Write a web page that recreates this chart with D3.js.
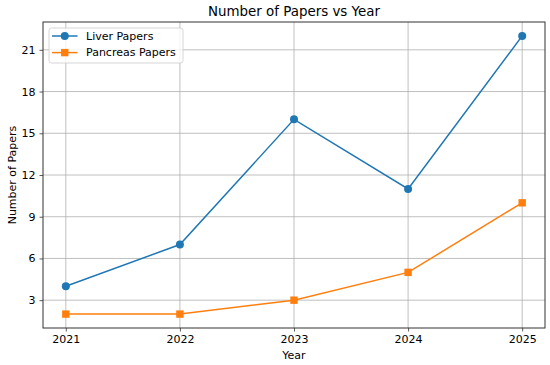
<!DOCTYPE html>
<html>
<head>
<meta charset="utf-8">
<script src="https://cdn.jsdelivr.net/npm/d3@7"></script>
<style>
  body { margin: 0; background: #fff; }
  svg { display: block; font-family: "DejaVu Sans", sans-serif; }
</style>
</head>
<body>
<div class="chart"></div>
<script>
var years = [2021, 2022, 2023, 2024, 2025];
var liverPapers = [4, 7, 16, 11, 22];
var pancreasPapers = [2, 2, 3, 5, 10];
var yTicks = [3, 6, 9, 12, 15, 18, 21];

var margin = {top: 22, right: 5, bottom: 37, left: 43},
    width = 550 - margin.left - margin.right,
    height = 365 - margin.top - margin.bottom;

var svg = d3.select(".chart").append("svg")
    .attr("width", 550)
    .attr("height", 365);

var g = svg.append("g")
    .attr("transform", "translate(" + margin.left + "," + margin.top + ")");

// matplotlib-ish 5% padding
var x = d3.scaleLinear().domain([2020.8, 2025.2]).range([0, width]);
var y = d3.scaleLinear().domain([1, 23]).range([height, 0]);

// grid
g.append("g").selectAll("line").data(years).enter().append("line")
    .attr("x1", function(d) { return x(d); })
    .attr("x2", function(d) { return x(d); })
    .attr("y1", 0).attr("y2", height)
    .attr("stroke", "#b0b0b0").attr("stroke-width", 0.8);
g.append("g").selectAll("line").data(yTicks).enter().append("line")
    .attr("y1", function(d) { return y(d); })
    .attr("y2", function(d) { return y(d); })
    .attr("x1", 0).attr("x2", width)
    .attr("stroke", "#b0b0b0").attr("stroke-width", 0.8);

// axes
var xAxis = g.append("g")
    .attr("transform", "translate(0," + height + ")")
    .call(d3.axisBottom(x).tickValues(years).tickFormat(d3.format("d")).tickSize(3.5).tickPadding(4));
var yAxis = g.append("g")
    .call(d3.axisLeft(y).tickValues(yTicks).tickSize(3.5).tickPadding(4));
[xAxis, yAxis].forEach(function(a) {
  a.select(".domain").remove();
  a.selectAll("text").attr("font-size", 11).attr("fill", "#000")
    .attr("font-family", "DejaVu Sans, sans-serif");
  a.selectAll("line").attr("stroke", "#333").attr("stroke-width", 0.8);
});

// frame
g.append("rect")
    .attr("width", width).attr("height", height)
    .attr("fill", "none").attr("stroke", "#333").attr("stroke-width", 1);

var line = d3.line()
    .x(function(d, i) { return x(years[i]); })
    .y(function(d) { return y(d); });

// liver
g.append("path").datum(liverPapers)
    .attr("fill", "none").attr("stroke", "#1f77b4").attr("stroke-width", 1.5)
    .attr("d", line);
g.append("g").selectAll("circle").data(liverPapers).enter().append("circle")
    .attr("cx", function(d, i) { return x(years[i]); })
    .attr("cy", function(d) { return y(d); })
    .attr("r", 4)
    .attr("fill", "#1f77b4");

// pancreas
g.append("path").datum(pancreasPapers)
    .attr("fill", "none").attr("stroke", "#ff7f0e").attr("stroke-width", 1.5)
    .attr("d", line);
g.append("g").selectAll("rect").data(pancreasPapers).enter().append("rect")
    .attr("x", function(d, i) { return x(years[i]) - 3.7; })
    .attr("y", function(d) { return y(d) - 3.7; })
    .attr("width", 7.4).attr("height", 7.4)
    .attr("fill", "#ff7f0e");

// titles
svg.append("text")
    .attr("x", margin.left + width / 2).attr("y", 16)
    .attr("text-anchor", "middle").attr("font-size", 13.4)
    .text("Number of Papers vs Year");
svg.append("text")
    .attr("x", margin.left + width / 2).attr("y", 359)
    .attr("text-anchor", "middle").attr("font-size", 11)
    .text("Year");
svg.append("text")
    .attr("transform", "translate(16," + (margin.top + height / 2) + ") rotate(-90)")
    .attr("text-anchor", "middle").attr("font-size", 11)
    .text("Number of Papers");

// legend
var legend = g.append("g").attr("transform", "translate(6,6)");
legend.append("rect")
    .attr("width", 134).attr("height", 35).attr("rx", 2.5)
    .attr("fill", "#fff").attr("fill-opacity", 0.8)
    .attr("stroke", "#ccc").attr("stroke-width", 0.8);
var items = [
  {name: "Liver Papers", color: "#1f77b4", shape: "circle"},
  {name: "Pancreas Papers", color: "#ff7f0e", shape: "square"}
];
items.forEach(function(it, i) {
  var row = legend.append("g").attr("transform", "translate(3," + (8 + i * 16.6) + ")");
  row.append("line").attr("x1", 0).attr("x2", 25.5)
      .attr("stroke", it.color).attr("stroke-width", 1.5);
  if (it.shape === "circle") {
    row.append("circle").attr("cx", 12.75).attr("r", 4).attr("fill", it.color);
  } else {
    row.append("rect").attr("x", 12.75 - 3.7).attr("y", -3.7)
        .attr("width", 7.4).attr("height", 7.4).attr("fill", it.color);
  }
  row.append("text").attr("x", 34).attr("dy", "0.35em")
      .attr("font-size", 11).text(it.name);
});
</script>
</body>
</html>
